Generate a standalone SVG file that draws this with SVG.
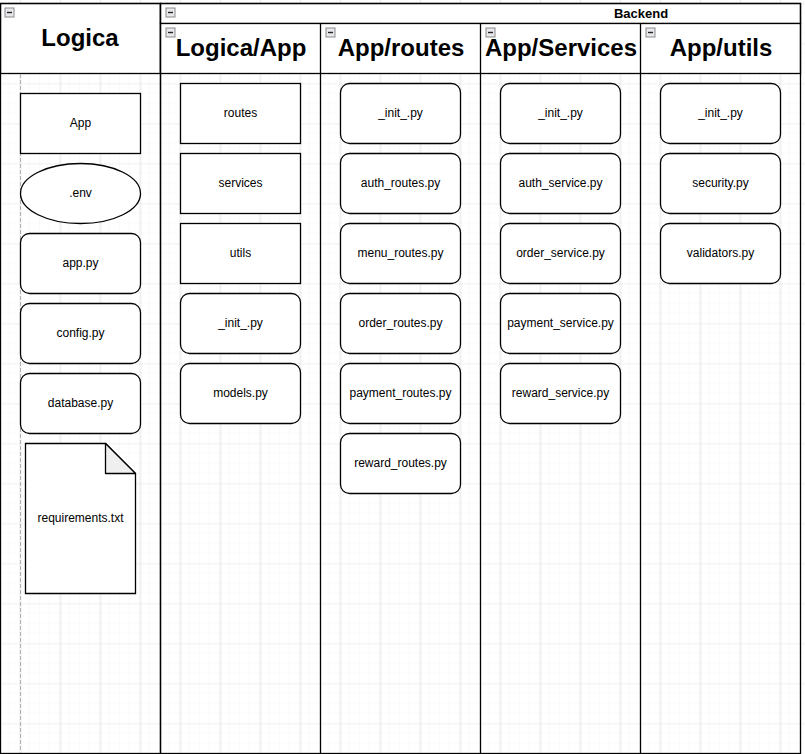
<svg xmlns="http://www.w3.org/2000/svg" width="805" height="754" viewBox="0 0 805 754">
<defs>
<pattern id="minor" width="10" height="10" patternUnits="userSpaceOnUse" x="0" y="3.5">
<path d="M10 0V10M0 10H10" fill="none" stroke="#f4f4f4" stroke-width="1"/>
</pattern>
<pattern id="major" width="40" height="40" patternUnits="userSpaceOnUse" x="0.5" y="3.5">
<path d="M20 0V40M0 0H40" fill="none" stroke="#e4e4e4" stroke-width="1"/>
</pattern>
<g id="tog"><rect x="0" y="0" width="9" height="9" fill="#e8e8ec" stroke="#8a8a8a" stroke-width="1"/><path d="M2 4.5H7" stroke="#222" stroke-width="1.4"/></g>
</defs>
<style>
.box{fill:#fff;stroke:#000;stroke-width:1.3}
.pool{fill:none;stroke:#000;stroke-width:1.3}
.hdr{fill:#fff;stroke:#000;stroke-width:1.3}
.lbl{font-family:"Liberation Sans",Arial,sans-serif;font-size:12px;fill:#000;text-anchor:middle;dominant-baseline:central}
.ttl{font-family:"Liberation Sans",Arial,sans-serif;font-size:24px;font-weight:bold;fill:#000;text-anchor:middle}
.sub{font-family:"Liberation Sans",Arial,sans-serif;font-size:13px;font-weight:bold;fill:#000;text-anchor:middle}
</style>
<rect width="805" height="754" fill="#fff"/>
<rect width="805" height="754" fill="url(#minor)"/>
<rect width="805" height="754" fill="url(#major)"/>

<g id="pool-logica">
<rect class="hdr" x="0.5" y="3.5" width="160" height="70"/>
<rect class="pool" x="0.5" y="3.5" width="160" height="750"/>
<use href="#tog" x="5" y="8"/>
<text class="ttl" x="80" y="46">Logica</text>
<line x1="20.5" y1="74" x2="20.5" y2="753" stroke="#b0b0b0" stroke-width="1" stroke-dasharray="4 2"/>
</g>

<g id="pool-backend">
<rect class="hdr" x="160.5" y="3.5" width="640" height="20"/>
<rect class="hdr" x="160.5" y="23.5" width="640" height="50"/>
<rect class="pool" x="160.5" y="3.5" width="640" height="750"/>
<line class="pool" x1="320.5" y1="23.5" x2="320.5" y2="753.5"/>
<line class="pool" x1="480.5" y1="23.5" x2="480.5" y2="753.5"/>
<line class="pool" x1="640.5" y1="23.5" x2="640.5" y2="753.5"/>
<use href="#tog" x="166" y="8"/>
<text class="sub" x="641" y="17.5">Backend</text>
</g>

<g id="lane-logica-app">
<use href="#tog" x="166" y="28"/>
<text class="ttl" x="241" y="56">Logica/App</text>
</g>
<g id="lane-app-routes">
<use href="#tog" x="326" y="28"/>
<text class="ttl" x="401" y="56">App/routes</text>
</g>
<g id="lane-app-services">
<use href="#tog" x="486" y="28"/>
<text class="ttl" x="561" y="56">App/Services</text>
</g>
<g id="lane-app-utils">
<use href="#tog" x="646" y="28"/>
<text class="ttl" x="721" y="56">App/utils</text>
</g>

<g id="n-app"><rect class="box" x="20.5" y="93.5" width="120" height="60"/><text class="lbl" x="80.5" y="122.5">App</text></g>
<g id="n-env"><ellipse class="box" cx="80.5" cy="193.5" rx="60" ry="30"/><text class="lbl" x="80.5" y="192.5">.env</text></g>
<g id="n-apppy"><rect class="box" x="20.5" y="233.5" width="120" height="60" rx="9"/><text class="lbl" x="80.5" y="262.5">app.py</text></g>
<g id="n-config"><rect class="box" x="20.5" y="303.5" width="120" height="60" rx="9"/><text class="lbl" x="80.5" y="332.5">config.py</text></g>
<g id="n-database"><rect class="box" x="20.5" y="373.5" width="120" height="60" rx="9"/><text class="lbl" x="80.5" y="402.5">database.py</text></g>
<g id="n-req">
<path class="box" d="M25.5 443.5H105.5L135.5 473.5V593.5H25.5Z"/>
<path d="M105.5 443.5V473.5H135.5Z" fill="#efefef" stroke="#000" stroke-width="1.3" stroke-linejoin="round"/>
<text class="lbl" x="80.5" y="517.5">requirements.txt</text>
</g>

<g id="n-routes"><rect class="box" x="180.5" y="83.5" width="120" height="60"/><text class="lbl" x="240.5" y="112.5">routes</text></g>
<g id="n-services"><rect class="box" x="180.5" y="153.5" width="120" height="60"/><text class="lbl" x="240.5" y="182.5">services</text></g>
<g id="n-utils"><rect class="box" x="180.5" y="223.5" width="120" height="60"/><text class="lbl" x="240.5" y="252.5">utils</text></g>
<g id="n-app-init"><rect class="box" x="180.5" y="293.5" width="120" height="60" rx="9"/><text class="lbl" x="240.5" y="322.5">_init_.py</text></g>
<g id="n-models"><rect class="box" x="180.5" y="363.5" width="120" height="60" rx="9"/><text class="lbl" x="240.5" y="392.5">models.py</text></g>

<g id="n-routes-init"><rect class="box" x="340.5" y="83.5" width="120" height="60" rx="9"/><text class="lbl" x="400.5" y="112.5">_init_.py</text></g>
<g id="n-auth-routes"><rect class="box" x="340.5" y="153.5" width="120" height="60" rx="9"/><text class="lbl" x="400.5" y="182.5">auth_routes.py</text></g>
<g id="n-menu-routes"><rect class="box" x="340.5" y="223.5" width="120" height="60" rx="9"/><text class="lbl" x="400.5" y="252.5">menu_routes.py</text></g>
<g id="n-order-routes"><rect class="box" x="340.5" y="293.5" width="120" height="60" rx="9"/><text class="lbl" x="400.5" y="322.5">order_routes.py</text></g>
<g id="n-payment-routes"><rect class="box" x="340.5" y="363.5" width="120" height="60" rx="9"/><text class="lbl" x="400.5" y="392.5">payment_routes.py</text></g>
<g id="n-reward-routes"><rect class="box" x="340.5" y="433.5" width="120" height="60" rx="9"/><text class="lbl" x="400.5" y="462.5">reward_routes.py</text></g>

<g id="n-services-init"><rect class="box" x="500.5" y="83.5" width="120" height="60" rx="9"/><text class="lbl" x="560.5" y="112.5">_init_.py</text></g>
<g id="n-auth-service"><rect class="box" x="500.5" y="153.5" width="120" height="60" rx="9"/><text class="lbl" x="560.5" y="182.5">auth_service.py</text></g>
<g id="n-order-service"><rect class="box" x="500.5" y="223.5" width="120" height="60" rx="9"/><text class="lbl" x="560.5" y="252.5">order_service.py</text></g>
<g id="n-payment-service"><rect class="box" x="500.5" y="293.5" width="120" height="60" rx="9"/><text class="lbl" x="560.5" y="322.5">payment_service.py</text></g>
<g id="n-reward-service"><rect class="box" x="500.5" y="363.5" width="120" height="60" rx="9"/><text class="lbl" x="560.5" y="392.5">reward_service.py</text></g>

<g id="n-utils-init"><rect class="box" x="660.5" y="83.5" width="120" height="60" rx="9"/><text class="lbl" x="720.5" y="112.5">_init_.py</text></g>
<g id="n-security"><rect class="box" x="660.5" y="153.5" width="120" height="60" rx="9"/><text class="lbl" x="720.5" y="182.5">security.py</text></g>
<g id="n-validators"><rect class="box" x="660.5" y="223.5" width="120" height="60" rx="9"/><text class="lbl" x="720.5" y="252.5">validators.py</text></g>

<g id="connectors"></g>
</svg>
